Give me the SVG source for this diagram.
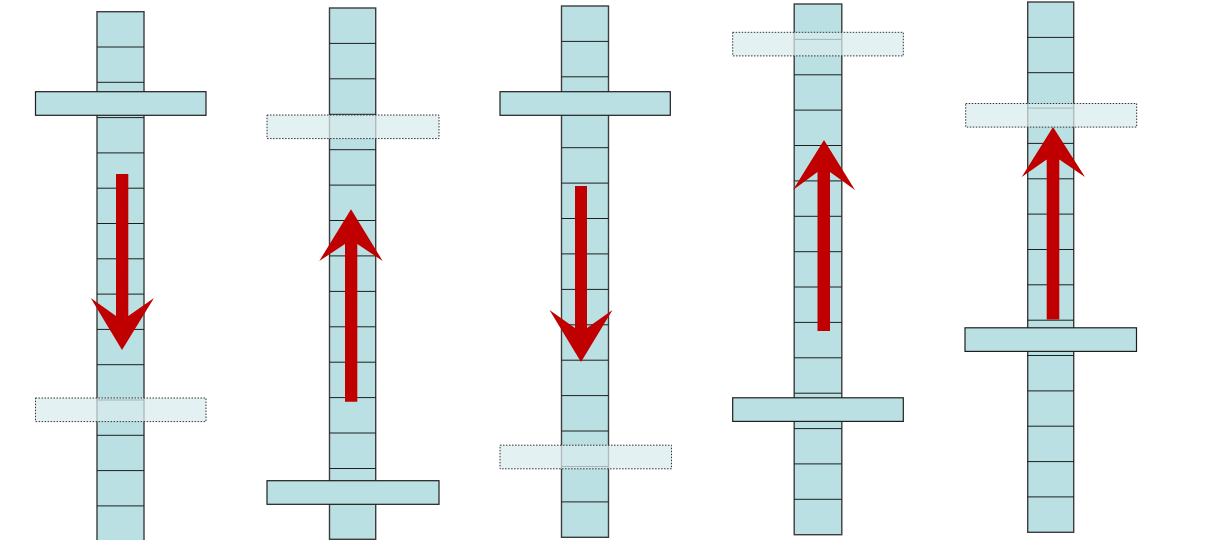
<svg xmlns="http://www.w3.org/2000/svg" width="1220" height="540" viewBox="0 0 1220 540">
<style>
.col{fill:#bbe0e3;stroke:#3c3c3c;stroke-width:1.4}
.cl{fill:none;stroke:#1e1e1e;stroke-width:1}
.bar{fill:#bbe0e3;stroke:#1e1e1e;stroke-width:1.2}
.ghost{fill:#d8eced;fill-opacity:0.73;stroke:#333;stroke-width:1;stroke-dasharray:1.5 1.5}
.arr{fill:#c00000}
</style>
<rect width="1220" height="540" fill="#fff"/>
<g id="column1">
<rect class="col" x="97" y="11.7" width="47" height="531"/>
<path class="cl" d="M97 47H144M97 82.3H144M97 117.6H144M97 152.9H144M97 188.2H144M97 223.5H144M97 258.8H144M97 294.1H144M97 329.4H144M97 364.7H144M97 400H144M97 435.3H144M97 470.6H144M97 505.9H144"/>
<rect class="bar" x="35.5" y="91.7" width="170.5" height="23.6"/>
<rect class="ghost" x="35.5" y="398" width="170.5" height="23.6"/>
</g>
<g id="column2">
<rect class="col" x="329.5" y="8" width="46.2" height="531.3"/>
<path class="cl" d="M329.5 43.4H375.7M329.5 78.8H375.7M329.5 114.3H375.7M329.5 149.7H375.7M329.5 185.1H375.7M329.5 220.5H375.7M329.5 255.9H375.7M329.5 291.4H375.7M329.5 326.8H375.7M329.5 362.2H375.7M329.5 397.6H375.7M329.5 433H375.7M329.5 468.5H375.7M329.5 503.9H375.7"/>
<rect class="ghost" x="267" y="115" width="172" height="23.6"/>
<rect class="bar" x="267" y="480.7" width="172" height="23.6"/>
</g>
<g id="column3">
<rect class="col" x="561.5" y="6" width="47" height="531.3"/>
<path class="cl" d="M561.5 41.4H608.5M561.5 76.8H608.5M561.5 112.3H608.5M561.5 147.7H608.5M561.5 183.1H608.5M561.5 218.5H608.5M561.5 253.9H608.5M561.5 289.4H608.5M561.5 324.8H608.5M561.5 360.2H608.5M561.5 395.6H608.5M561.5 431H608.5M561.5 466.5H608.5M561.5 501.9H608.5"/>
<rect class="bar" x="500" y="91.7" width="170.3" height="23.6"/>
<rect class="ghost" x="500" y="445.2" width="171.5" height="23.6"/>
</g>
<g id="column4">
<rect class="col" x="794.2" y="4" width="47.6" height="530.7"/>
<path class="cl" d="M794.2 39.4H841.8M794.2 74.8H841.8M794.2 110.1H841.8M794.2 145.5H841.8M794.2 180.9H841.8M794.2 216.3H841.8M794.2 251.7H841.8M794.2 287H841.8M794.2 322.4H841.8M794.2 357.8H841.8M794.2 393.2H841.8M794.2 428.6H841.8M794.2 463.9H841.8M794.2 499.3H841.8"/>
<rect class="ghost" x="732.7" y="32.3" width="170.6" height="23.6"/>
<rect class="bar" x="732.7" y="397.8" width="170.6" height="23.6"/>
</g>
<g id="column5">
<rect class="col" x="1027.7" y="2" width="46" height="530.3"/>
<path class="cl" d="M1027.7 37.4H1073.7M1027.7 72.7H1073.7M1027.7 108.1H1073.7M1027.7 143.4H1073.7M1027.7 178.8H1073.7M1027.7 214.1H1073.7M1027.7 249.5H1073.7M1027.7 284.8H1073.7M1027.7 320.2H1073.7M1027.7 355.5H1073.7M1027.7 390.9H1073.7M1027.7 426.2H1073.7M1027.7 461.6H1073.7M1027.7 496.9H1073.7"/>
<rect class="ghost" x="965.7" y="103.5" width="171" height="23.6"/>
<rect class="bar" x="965" y="327.8" width="171.5" height="23.6"/>
</g>
<g id="connectors">
<polygon class="arr" points="116,174 128.3,174 128.3,316 154,298 122,350 90.7,298 116,316"/>
<polygon class="arr" points="345,401.7 357.3,401.7 357.3,244 382.7,261 351,209.3 319.3,261 345,244"/>
<polygon class="arr" points="575,186 587,186 587,328 612.5,310 581,362 549.5,310 575,328"/>
<polygon class="arr" points="817.5,331 830,331 830,172 855,190 824,140 793,190 817.5,172"/>
<polygon class="arr" points="1046.7,319.5 1059.3,319.5 1059.3,159.5 1085,177 1053,127 1021.7,177 1046.7,159.5"/>
</g>
</svg>
